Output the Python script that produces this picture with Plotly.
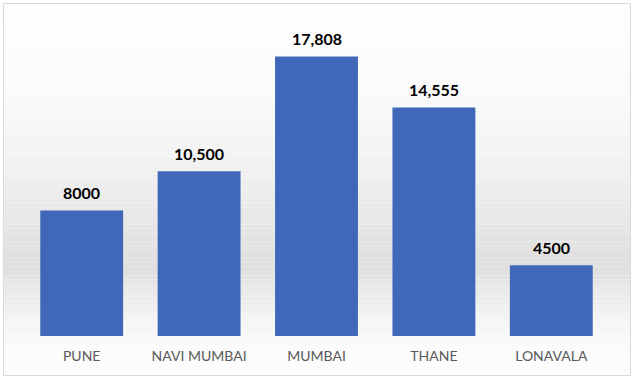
import plotly.graph_objects as go

categories = ["PUNE", "NAVI MUMBAI", "MUMBAI", "THANE", "LONAVALA"]
values = [8000, 10500, 17808, 14555, 4500]
value_labels = ["8000", "10,500", "17,808", "14,555", "4500"]

W, H = 634, 381
ML, MR, MT, MB = 23, 24, 22, 45
PH = H - MT - MB
PW = W - ML - MR


def px_y(y):
    return (H - MB - y) / PH


def px_x(x):
    return (x - ML) / PW


fig = go.Figure()
fig.add_trace(go.Bar(
    x=categories, y=values,
    marker=dict(color="#4068B8", line=dict(width=0)),
    hoverinfo="skip",
))

for c, v, t in zip(categories, values, value_labels):
    fig.add_annotation(x=c, y=v, text=t, showarrow=False, yanchor="bottom",
                       yshift=6, font=dict(family="Lato", size=16, color="#000000", weight="bold"))

shapes = []
stops = [(0, 255), (100, 250), (180, 239), (240, 227), (270, 223), (290, 233), (320, 244), (345, 251), (381, 253)]
N = 90
for i in range(N):
    y0 = i * H / N
    y1 = (i + 1) * H / N
    ym = (y0 + y1) / 2
    for (a, ca), (b, cb) in zip(stops[:-1], stops[1:]):
        if a <= ym <= b:
            g = int(round(ca + (cb - ca) * (ym - a) / (b - a)))
            break
    col = f"rgb({g},{g},{g})"
    shapes.append(dict(type="rect", xref="paper", yref="paper", layer="below",
                       x0=px_x(3), x1=px_x(631), y0=px_y(min(max(y1, 3), 375)), y1=px_y(min(max(y0, 3), 375)),
                       fillcolor=col, line=dict(width=0)))
shapes.append(dict(type="rect", xref="paper", yref="paper", layer="above",
                   x0=px_x(3.5), x1=px_x(630.5), y0=px_y(375.5), y1=px_y(3.5),
                   fillcolor="rgba(0,0,0,0)", line=dict(color="#D9D9D9", width=1)))

fig.update_layout(
    width=W, height=H,
    margin=dict(l=ML, r=MR, t=MT, b=MB),
    paper_bgcolor="white", plot_bgcolor="rgba(0,0,0,0)",
    bargap=0.294,
    showlegend=False,
    shapes=shapes,
    xaxis=dict(showgrid=False, showline=False, zeroline=False, ticks="",
               ticklabelstandoff=10,
               tickfont=dict(family="Lato", size=14, color="#595959")),
    yaxis=dict(range=[0, 20000], visible=False),
)

fig.write_html("out.html", config={"displayModeBar": False},
               post_script="document.body.style.margin='0';")
